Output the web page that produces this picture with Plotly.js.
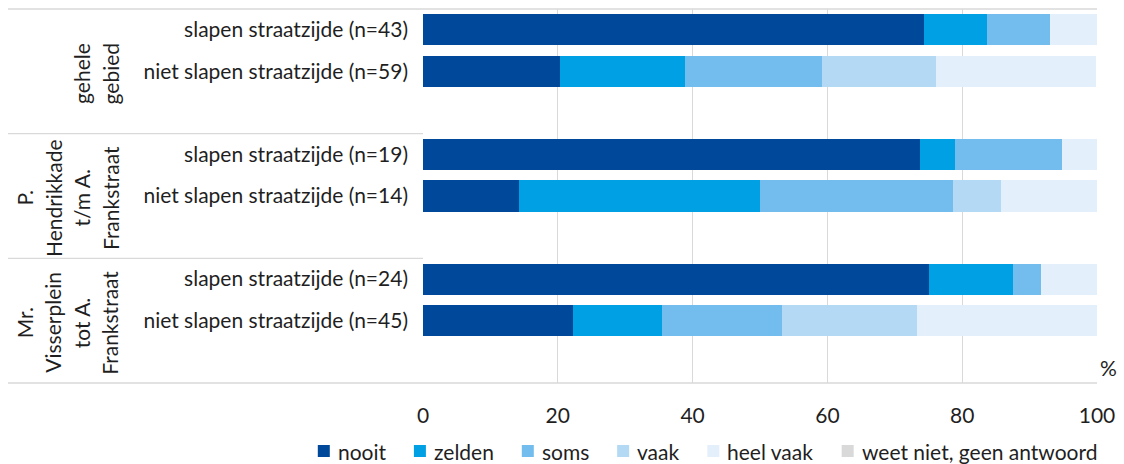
<!DOCTYPE html>
<html>
<head>
<meta charset="utf-8">
<script src="https://cdn.plot.ly/plotly-3.0.1.min.js"></script>
<style>
  html, body { margin: 0; padding: 0; background: #ffffff; }
  #chart { width: 1124px; height: 464px; }
</style>
</head>
<body>
<div id="chart"></div>
<script>
// ---- data ----
const categories = [
  "slapen straatzijde (n=43)",
  "niet slapen straatzijde (n=59)",
  "slapen straatzijde (n=19)",
  "niet slapen straatzijde (n=14)",
  "slapen straatzijde (n=24)",
  "niet slapen straatzijde (n=45)"
];
const groupLabels = [
  ["gehele", "gebied"],
  ["P.", "Hendrikkade", "t/m A.", "Frankstraat"],
  ["Mr.", "Visserplein", "tot A.", "Frankstraat"]
];
const seriesNames = ["nooit", "zelden", "soms", "vaak", "heel vaak", "weet niet, geen antwoord"];
const nooit    = [74.4, 20.3, 73.7, 14.3, 75.0, 22.2];
const zelden   = [9.3, 18.6, 5.3, 35.7, 12.5, 13.3];
const soms     = [9.3, 20.3, 15.8, 28.6, 4.2, 17.8];
const vaak     = [0, 16.9, 0, 7.1, 0, 20.0];
const heelVaak = [7.0, 23.7, 5.3, 14.3, 8.3, 26.7];
const weetNiet = [0, 0, 0, 0, 0, 0];
const xTicks = [0, 20, 40, 60, 80, 100];
const unitLabel = "%";

// ---- styling ----
const colors = ["#00489a", "#00a0e4", "#72bded", "#b3d9f4", "#e3f0fb", "#d9d9d9"];
const FONT = "Lato, 'Open Sans', sans-serif";
const FS = 21;
const TXT = "#1f1f1f";
const GRID = "#d9d9d9";

// slot positions: 2 bars per group + one empty slot
const perGroup = 2, slotsPerGroup = 3;
const yPos = categories.map((c, i) => Math.floor(i / perGroup) * slotsPerGroup + (i % perGroup));
const nSlots = groupLabels.length * slotsPerGroup;

const allSeries = [nooit, zelden, soms, vaak, heelVaak, weetNiet];
const traces = allSeries.map((vals, k) => ({
  type: "bar",
  orientation: "h",
  name: seriesNames[k],
  x: vals,
  y: yPos,
  width: 0.75,
  marker: { color: colors[k], line: { width: 0 } },
  hoverinfo: "name+x"
}));

// plot area geometry (px)
const L = 423, R = 27, T = 9, B = 81, W = 1124, H = 464;
const plotW = W - L - R, plotH = H - T - B;
const px2paper = px => (px - L) / plotW;
const py2paper = py => (H - B - py) / plotH;

const shapes = [];
const annotations = [];
const lineStart = px2paper(8);
shapes.push({ type: "line", xref: "paper", yref: "paper", x0: lineStart, x1: 1, y0: 1, y1: 1, line: { color: GRID, width: 1.3 } });
shapes.push({ type: "line", xref: "paper", yref: "paper", x0: lineStart, x1: 1, y0: 0, y1: 0, line: { color: GRID, width: 1.3 } });
for (let g = 1; g < groupLabels.length; g++) {
  const yb = g * slotsPerGroup - 0.5;
  shapes.push({ type: "line", xref: "paper", yref: "y", x0: lineStart, x1: 0, y0: yb, y1: yb, line: { color: GRID, width: 1.3 } });
}

// group labels (rotated), lines stacked towards the category labels
const lastLineX = 110, lineStep = 28.5;
groupLabels.forEach((lines, g) => {
  lines.forEach((t, i) => {
    const cx = lastLineX - (lines.length - 1 - i) * lineStep;
    annotations.push({
      text: t, xref: "paper", yref: "y",
      x: px2paper(cx), y: g * slotsPerGroup + 1 + 0.05,
      textangle: -90, showarrow: false,
      xanchor: "center", yanchor: "middle",
      font: { family: FONT, size: FS, color: TXT }
    });
  });
});
annotations.push({
  text: unitLabel, xref: "paper", yref: "paper",
  x: px2paper(1108), y: py2paper(367),
  showarrow: false, xanchor: "center", yanchor: "middle",
  font: { family: FONT, size: FS, color: TXT }
});

// legend (one row, drawn as squares + text)
const ctx = document.createElement("canvas").getContext("2d");
ctx.font = FS + "px Lato";
const sq = 12, sqGap = 7, itemGap = 29;
const widths = seriesNames.map(n => ctx.measureText(n).width);
let total = 0;
widths.forEach((w, k) => { total += sq + sqGap + w + (k < widths.length - 1 ? itemGap : 0); });
let cur = 707 - total / 2;
const legY = 451;
seriesNames.forEach((n, k) => {
  shapes.push({
    type: "rect", xref: "paper", yref: "paper",
    x0: px2paper(cur), x1: px2paper(cur + sq),
    y0: py2paper(legY + sq / 2), y1: py2paper(legY - sq / 2),
    fillcolor: colors[k], line: { width: 0 }
  });
  annotations.push({
    text: n, xref: "paper", yref: "paper",
    x: px2paper(cur + sq + sqGap - 1), y: py2paper(legY),
    showarrow: false, xanchor: "left", yanchor: "middle",
    font: { family: FONT, size: FS, color: TXT }
  });
  cur += sq + sqGap + widths[k] + itemGap;
});

const layout = {
  width: W, height: H,
  margin: { l: L, r: R, t: T, b: B, pad: 0 },
  paper_bgcolor: "#ffffff", plot_bgcolor: "#ffffff",
  barmode: "stack",
  font: { family: FONT, color: TXT },
  showlegend: false,
  xaxis: {
    range: [0, 100], tickvals: xTicks, ticktext: xTicks.map(String),
    showgrid: true, gridcolor: GRID, gridwidth: 1.3,
    zeroline: false, showline: false, ticks: "",
    ticklabelstandoff: 18,
    tickfont: { family: FONT, size: FS, color: TXT },
    automargin: false,
    fixedrange: true
  },
  yaxis: {
    range: [nSlots - 0.5, -0.5],
    tickvals: yPos, ticktext: categories,
    showgrid: false, zeroline: false, showline: false, ticks: "",
    ticklabelstandoff: 14,
    tickfont: { family: FONT, size: FS, color: TXT },
    automargin: false,
    fixedrange: true
  },
  shapes: shapes,
  annotations: annotations
};

Plotly.newPlot("chart", traces, layout, { displayModeBar: false, staticPlot: true });
</script>
</body>
</html>
